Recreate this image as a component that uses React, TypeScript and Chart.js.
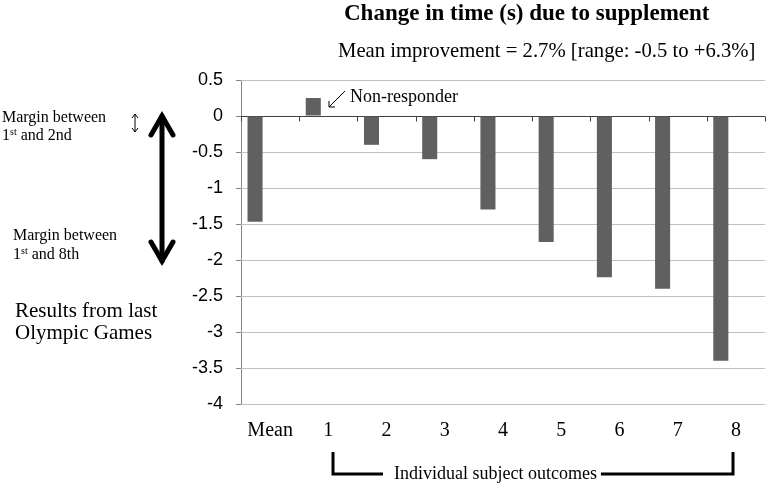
import React, { useEffect, useRef } from "react";
import Chart from "chart.js/auto";

// values (seconds)
const categories = ["Mean", "1", "2", "3", "4", "5", "6", "7", "8"];
const changeSeconds = [-1.47, 0.25, -0.4, -0.6, -1.3, -1.75, -2.24, -2.4, -3.4];
// two empty series, the original sheet reserved room for them in each group
const emptySeriesA = [null, null, null, null, null, null, null, null, null];
const emptySeriesB = [null, null, null, null, null, null, null, null, null];
const yMin = -4;
const yMax = 0.5;
const yStep = 0.5;

const titleText = "Change in time (s) due to supplement";
const subtitleText = "Mean improvement = 2.7% [range: -0.5 to +6.3%]";
const nonResponderText = "Non-responder";
const bracketText = "Individual subject outcomes";
const resultsLines = ["Results from last", "Olympic Games"];

const SERIF = '"Liberation Serif", "Times New Roman", serif';
const SANS = '"Liberation Sans", Arial, sans-serif';

// draws "1st and 2nd" with a raised "st"
function supText(ctx: CanvasRenderingContext2D, x: number, y: number, size: number, parts: [string, string, string]) {
  ctx.textAlign = "left";
  ctx.textBaseline = "alphabetic";
  ctx.font = `${size}px ${SERIF}`;
  ctx.fillText(parts[0], x, y);
  let cx = x + ctx.measureText(parts[0]).width;
  ctx.font = `${Math.round(size * 0.62)}px ${SERIF}`;
  ctx.fillText(parts[1], cx, y - size * 0.33);
  cx += ctx.measureText(parts[1]).width;
  ctx.font = `${size}px ${SERIF}`;
  ctx.fillText(parts[2], cx, y);
}

function chevron(ctx: CanvasRenderingContext2D, x: number, y: number, dir: number, hw: number, len: number) {
  ctx.beginPath();
  ctx.moveTo(x - hw, y + dir * len);
  ctx.lineTo(x, y);
  ctx.lineTo(x + hw, y + dir * len);
  ctx.stroke();
}

// gridlines, zero line and category ticks, taken from the chart's scales
const axisLines = {
  id: "axisLines",
  beforeDatasetsDraw(chart: any) {
    const ctx: CanvasRenderingContext2D = chart.ctx;
    const { left, right } = chart.chartArea;
    const y = chart.scales.y;
    const x = chart.scales.x;
    ctx.save();
    ctx.lineWidth = 1;
    y.ticks.forEach((t: any) => {
      const py = Math.round(y.getPixelForValue(t.value)) + 0.5;
      ctx.strokeStyle = "#c0c0c0";
      ctx.beginPath();
      ctx.moveTo(left, py);
      ctx.lineTo(right, py);
      ctx.stroke();
      ctx.strokeStyle = "#868686";
      ctx.beginPath();
      ctx.moveTo(left - 5, py);
      ctx.lineTo(left, py);
      ctx.stroke();
    });
    const zy = Math.round(y.getPixelForValue(0)) + 0.5;
    ctx.strokeStyle = "#404040";
    ctx.beginPath();
    ctx.moveTo(left, zy);
    ctx.lineTo(right, zy);
    ctx.stroke();
    const half = (x.getPixelForTick(1) - x.getPixelForTick(0)) / 2;
    for (let i = 0; i <= categories.length; i++) {
      const px = Math.round(x.getPixelForTick(Math.min(i, categories.length - 1)) + (i === categories.length ? half : -half)) + 0.5;
      ctx.beginPath();
      ctx.moveTo(px, zy);
      ctx.lineTo(px, zy + 5);
      ctx.stroke();
    }
    ctx.restore();
  },
};

const annotations = {
  id: "annotations",
  afterDraw(chart: any) {
    const ctx: CanvasRenderingContext2D = chart.ctx;
    ctx.save();
    ctx.fillStyle = "#000";
    ctx.strokeStyle = "#000";

    // title + subtitle
    ctx.textBaseline = "alphabetic";
    ctx.textAlign = "left";
    ctx.font = `bold 23px ${SERIF}`;
    ctx.fillText(titleText, 344, 20);
    ctx.font = `20.7px ${SERIF}`;
    ctx.fillText(subtitleText, 338, 57);

    // left notes
    ctx.font = `16px ${SERIF}`;
    ctx.fillText("Margin between", 2, 122);
    supText(ctx, 2, 140, 16, ["1", "st", " and 2nd"]);
    ctx.font = `16px ${SERIF}`;
    ctx.fillText("Margin between", 13, 240);
    supText(ctx, 13, 259, 16, ["1", "st", " and 8th"]);
    ctx.font = `21px ${SERIF}`;
    ctx.fillText(resultsLines[0], 15, 317);
    ctx.fillText(resultsLines[1], 15, 339);

    // small double arrow
    ctx.lineWidth = 1;
    ctx.beginPath();
    ctx.moveTo(135, 114);
    ctx.lineTo(135, 132);
    ctx.stroke();
    chevron(ctx, 135, 114, 1, 3, 4);
    chevron(ctx, 135, 132, -1, 3, 4);

    // big double arrow
    ctx.lineWidth = 5;
    ctx.lineCap = "round";
    ctx.lineJoin = "miter";
    ctx.beginPath();
    ctx.moveTo(162, 116);
    ctx.lineTo(162, 261);
    ctx.stroke();
    chevron(ctx, 162, 116, 1, 11, 19);
    chevron(ctx, 162, 261, -1, 11, 19);

    // non-responder pointer
    ctx.lineWidth = 1;
    ctx.lineCap = "butt";
    ctx.beginPath();
    ctx.moveTo(345, 91);
    ctx.lineTo(329, 107);
    ctx.stroke();
    ctx.beginPath();
    ctx.moveTo(329, 101);
    ctx.lineTo(329, 107);
    ctx.lineTo(335, 107);
    ctx.stroke();
    ctx.font = `18px ${SERIF}`;
    ctx.fillText(nonResponderText, 350, 102);

    // bracket under the individual subjects
    ctx.lineWidth = 3;
    ctx.lineJoin = "miter";
    ctx.beginPath();
    ctx.moveTo(333, 452);
    ctx.lineTo(333, 474);
    ctx.lineTo(383, 474);
    ctx.stroke();
    ctx.font = `18px ${SERIF}`;
    ctx.fillText(bracketText, 394, 479);
    const textEnd = 394 + ctx.measureText(bracketText).width;
    ctx.beginPath();
    ctx.moveTo(textEnd + 4, 474);
    ctx.lineTo(733, 474);
    ctx.lineTo(733, 452);
    ctx.stroke();

    ctx.restore();
  },
};

const App = () => {
  const canvasRef = useRef<HTMLCanvasElement>(null);

  useEffect(() => {
    if (!canvasRef.current) return;
    const chart = new Chart(canvasRef.current, {
      type: "bar",
      data: {
        labels: categories,
        datasets: [
          { data: changeSeconds, backgroundColor: "#606060", borderWidth: 0 },
          { data: emptySeriesA as any, backgroundColor: "#606060" },
          { data: emptySeriesB as any, backgroundColor: "#606060" },
        ],
      },
      options: {
        animation: false,
        responsive: true,
        maintainAspectRatio: false,
        datasets: { bar: { categoryPercentage: 0.776, barPercentage: 1 } },
        layout: { padding: { top: 80, right: 2, left: 0, bottom: 0 } },
        plugins: { legend: { display: false }, tooltip: { enabled: false } },
        scales: {
          x: {
            type: "category",
            offset: true,
            grid: { display: false, drawTicks: false },
            border: { display: false },
            ticks: { padding: 15, color: "#000", font: { family: SERIF, size: 20 }, maxRotation: 0 },
            afterFit: (s: any) => { s.height = 80; },
          },
          y: {
            min: yMin,
            max: yMax,
            ticks: {
              stepSize: yStep,
              padding: 13,
              color: "#000",
              font: { family: SANS, size: 18 },
              callback: (v: any) => String(Math.round(Number(v) * 10) / 10),
            },
            grid: { color: "rgba(0,0,0,0)", tickColor: "rgba(0,0,0,0)", tickLength: 5 },
            border: { display: true, color: "#868686" },
            afterFit: (s: any) => { s.width = 241; },
          },
        },
      },
      plugins: [axisLines, annotations],
    });
    return () => chart.destroy();
  }, []);

  return (
    <div style={{ position: "fixed", left: 0, top: 0, width: 767, height: 484, background: "#fff" }}>
      <canvas ref={canvasRef}></canvas>
    </div>
  );
};

export default App;
